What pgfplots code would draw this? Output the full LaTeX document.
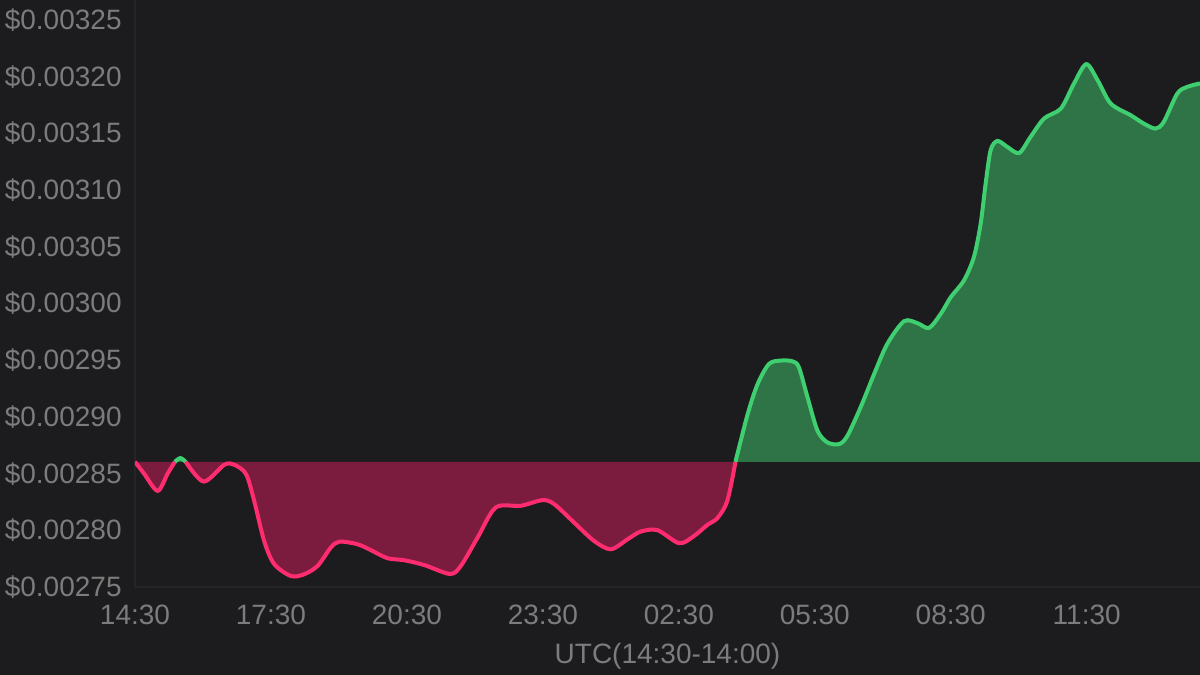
\documentclass[border=0pt]{standalone}
\usepackage{pgfplots}
\pgfplotsset{compat=1.18}
\usepackage{pgfplotstable}
\usepackage{fontspec}
\setmainfont{Liberation Sans}
\definecolor{bgc}{HTML}{1C1C1E}
\definecolor{axisc}{HTML}{252527}
\definecolor{txt}{HTML}{7C7C7C}
\definecolor{rline}{HTML}{FF2D6F}
\definecolor{rfill}{HTML}{7B1C3F}
\definecolor{gline}{HTML}{3FCF70}
\definecolor{gfill}{HTML}{2E7446}

% segments split where the price crosses the opening level 0.0028604
\pgfplotstableread{
x y
0 0.0028604
0.2 0.0028500
0.5 0.0028348
0.72 0.0028500
0.88 0.0028604
}\redA
\pgfplotstableread{
x y
0.88 0.0028604
1.0 0.0028637
1.12 0.0028604
}\greenA
\pgfplotstableread{
x y
1.12 0.0028604
1.515 0.0028430
1.97 0.0028578
2.19 0.0028578
2.45 0.0028496
2.63 0.0028260
2.85 0.0027906
3.07 0.0027703
3.44 0.0027597
3.73 0.0027612
4.03 0.0027686
4.32 0.0027847
4.51 0.0027900
4.91 0.0027877
5.21 0.0027824
5.57 0.0027754
5.94 0.0027736
6.38 0.0027694
6.95 0.0027615
7.19 0.0027686
7.56 0.0027936
7.96 0.0028201
8.51 0.0028216
8.99 0.0028266
9.25 0.0028231
9.69 0.0028068
10.13 0.0027906
10.50 0.0027833
10.87 0.0027921
11.16 0.0027989
11.53 0.0028001
12.01 0.0027886
12.34 0.0027951
12.63 0.0028048
12.85 0.0028107
13.07 0.0028260
13.25 0.0028604
}\redB
\pgfplotstableread{
x y
13.25 0.0028604
13.52 0.0029026
13.74 0.0029291
13.99 0.0029467
14.25 0.0029497
14.51 0.0029490
14.65 0.0029437
14.84 0.0029172
15.06 0.0028878
15.28 0.0028775
15.54 0.0028761
15.72 0.0028834
16.01 0.0029084
16.31 0.0029379
16.60 0.0029644
16.97 0.0029844
17.27 0.0029826
17.52 0.0029785
17.78 0.0029909
18.00 0.0030056
18.29 0.0030203
18.51 0.0030409
18.66 0.0030704
18.77 0.0031057
18.88 0.0031352
19.03 0.0031434
19.25 0.0031381
19.51 0.0031328
19.76 0.0031469
20.06 0.0031632
20.43 0.0031720
20.72 0.0031941
20.99 0.0032111
21.24 0.0031970
21.53 0.0031764
21.97 0.0031661
22.26 0.0031587
22.52 0.0031543
22.70 0.0031602
23.00 0.0031852
23.22 0.0031911
23.50 0.0031941
}\greenB

\begin{document}
\begin{tikzpicture}
\useasboundingbox (0,0) rectangle (600pt,337.5pt);
\fill[bgc] (0,0) rectangle (600pt,337.5pt);
\begin{axis}[
  at={(67.5pt,44pt)}, anchor=south west,
  width=532.5pt, height=293.5pt, scale only axis,
  xmin=0, xmax=23.5, ymin=0.00275, ymax=0.0032677,
  axis lines*=left,
  axis line style={draw=axisc, line width=0.6pt},
  major tick length=0pt,
  scaled y ticks=false, scaled x ticks=false,
  xtick={0,3,6,9,12,15,18,21},
  xticklabels={14:30,17:30,20:30,23:30,02:30,05:30,08:30,11:30},
  ytick={0.00275,0.0028,0.00285,0.0029,0.00295,0.003,0.00305,0.0031,0.00315,0.0032,0.00325},
  yticklabels={\$0.00275,\$0.00280,\$0.00285,\$0.00290,\$0.00295,\$0.00300,\$0.00305,\$0.00310,\$0.00315,\$0.00320,\$0.00325},
  tick label style={font=\fontsize{14}{16}\selectfont, text=txt},
  yticklabel style={anchor=east, inner sep=0pt, xshift=-6.5pt},
  xticklabel style={anchor=north, inner sep=0pt, yshift=-9pt},
  xlabel={UTC(14:30-14:00)},
  xlabel style={at={(axis description cs:0.5,0)}, anchor=base, inner sep=0pt, yshift=-38.3pt, font=\fontsize{14}{16}\selectfont, text=txt},
]
% fills
\addplot[draw=none, fill=rfill, smooth] table {\redA};
\addplot[draw=none, fill=gfill, smooth] table {\greenA};
\addplot[draw=none, fill=rfill, smooth] table {\redB};
\addplot[draw=none, fill=gfill, smooth] table {\greenB} -- (axis cs:23.5,0.0028604) -- cycle;
% lines
\addplot[rline, line width=2pt, smooth] table {\redA};
\addplot[gline, line width=2pt, smooth] table {\greenA};
\addplot[rline, line width=2pt, smooth] table {\redB};
\addplot[gline, line width=2pt, smooth] table {\greenB};
\end{axis}
\end{tikzpicture}
\end{document}
